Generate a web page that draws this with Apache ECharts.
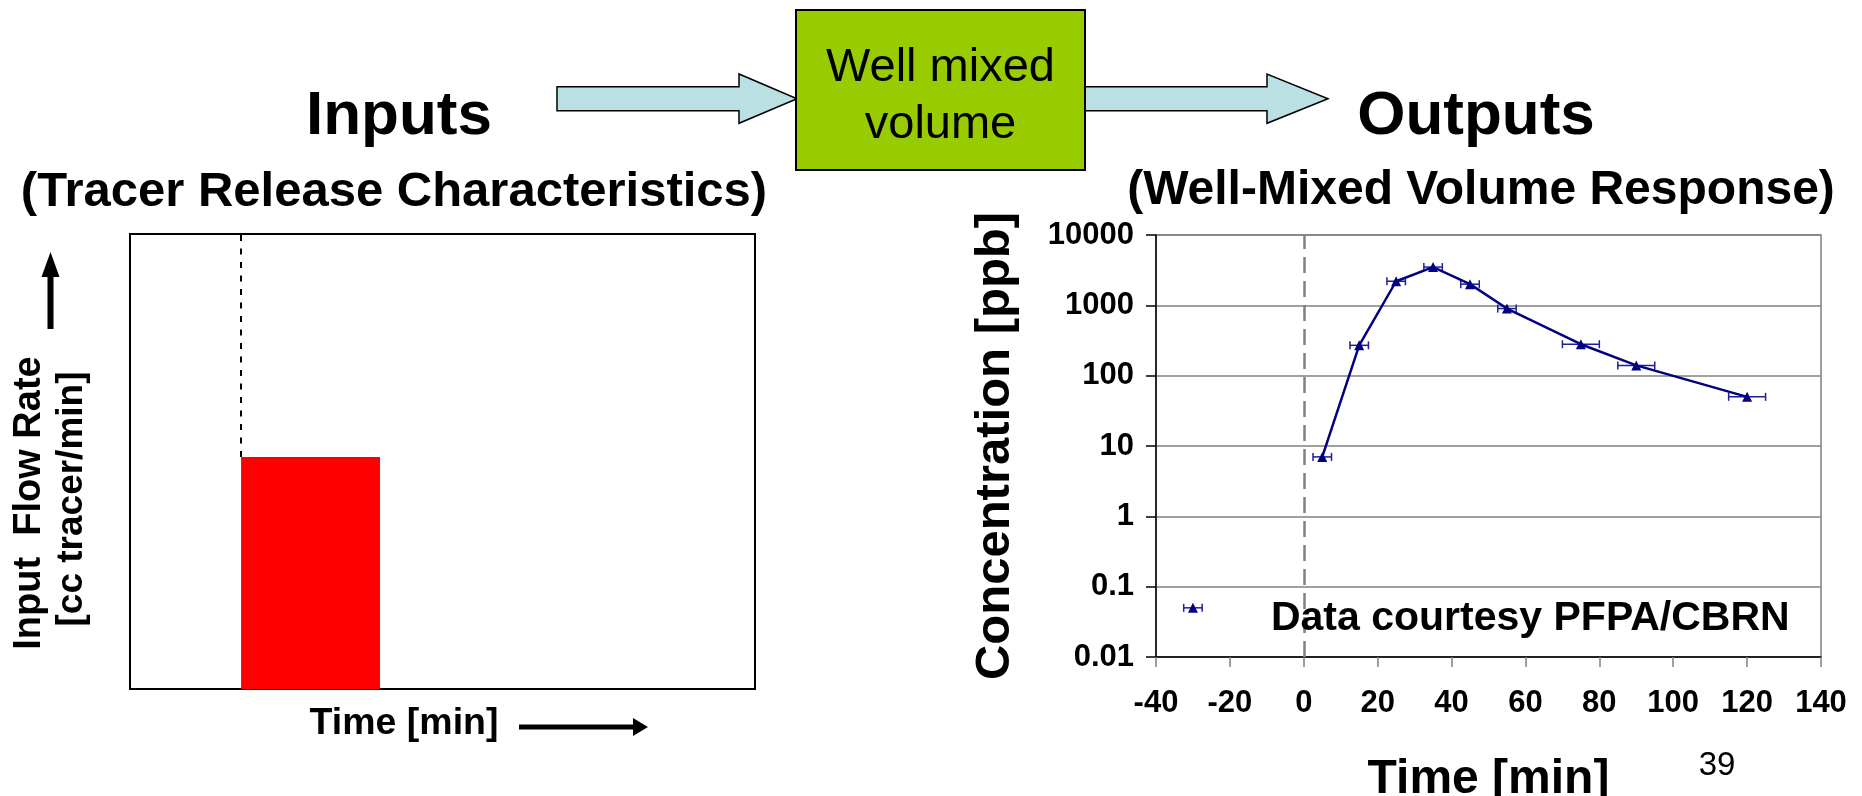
<!DOCTYPE html>
<html><head><meta charset="utf-8">
<script src="https://cdn.jsdelivr.net/npm/echarts@6/dist/echarts.min.js"></script>
<style>html,body{margin:0;padding:0;background:#fff}#c{width:1862px;height:796px}</style>
</head><body><div id="c"></div>
<script>
const FONT = 'Arial, "Liberation Sans", Helvetica, sans-serif';

// ---- Right chart: well-mixed volume response ----
const sampleTimes    = [5, 15, 25, 35, 45, 55, 75, 90, 120];
const concentrations = [7, 270, 2200, 3500, 2000, 900, 280, 140, 50];
const timeErrors     = [2.5, 2.5, 2.5, 2.5, 2.5, 2.5, 5, 5, 5];
const legendTime = [-30];
const legendConc = [0.05];
const legendErr  = [2.5];
const seriesName = 'Data courtesy PFPA/CBRN';
const releaseMarkerTime = [0];

// ---- Left chart: schematic tracer release ----
const releaseStart = [0];
const releaseEnd   = [10];
const releaseRate  = [0.51];

const chart = echarts.init(document.getElementById('c'));

const errData = sampleTimes.map((t, i) => [t, concentrations[i], timeErrors[i]])
  .concat(legendTime.map((t, i) => [t, legendConc[i], legendErr[i]]));

function errRender(params, api) {
  const x = api.value(0), y = api.value(1), e = api.value(2);
  const a = api.coord([x - e, y]), b = api.coord([x + e, y]);
  const cap = 4;
  const style = { stroke: '#1F1F9C', lineWidth: 1.5 };
  return { type: 'group', children: [
    { type: 'line', shape: { x1: a[0], y1: a[1], x2: b[0], y2: b[1] }, style },
    { type: 'line', shape: { x1: a[0], y1: a[1] - cap, x2: a[0], y2: a[1] + cap }, style },
    { type: 'line', shape: { x1: b[0], y1: b[1] - cap, x2: b[0], y2: b[1] + cap }, style }
  ]};
}

function releaseRender(params, api) {
  const p0 = api.coord([api.value(0), 0]);
  const p1 = api.coord([api.value(1), api.value(2)]);
  return { type: 'rect', shape: { x: p0[0], y: p1[1], width: p1[0] - p0[0], height: p0[1] - p1[1] },
    style: { fill: '#FF0000' } };
}

const boldText = (size) => ({ fontFamily: FONT, fontWeight: 'bold', fontSize: size, fill: '#000' });
const centered = { textAlign: 'center', textVerticalAlign: 'middle', align: 'center', verticalAlign: 'middle' };

const option = {
  animation: false,
  backgroundColor: '#fff',
  grid: [
    { left: 130, top: 234, width: 625, height: 455, show: true, borderColor: '#000', borderWidth: 2,
      backgroundColor: 'transparent', outerBoundsMode: 'none' },
    { left: 1156, top: 235, width: 665, height: 422, show: true, borderColor: '#808080', borderWidth: 1.5,
      backgroundColor: 'transparent', outerBoundsMode: 'none' }
  ],
  xAxis: [
    { gridIndex: 0, type: 'value', min: -8, max: 37,
      axisLine: { show: false }, axisTick: { show: false }, axisLabel: { show: false }, splitLine: { show: false } },
    { gridIndex: 1, type: 'value', min: -40, max: 140, interval: 20,
      axisLine: { show: true, onZero: false, lineStyle: { color: '#000', width: 1.5 } },
      axisTick: { show: true, inside: false, length: 10, lineStyle: { color: '#808080', width: 1.5 } },
      axisLabel: { margin: 31, fontSize: 31, fontWeight: 'bold', color: '#000', fontFamily: FONT },
      splitLine: { show: false },
      name: 'Time [min]', nameLocation: 'middle', nameGap: 99,
      nameTextStyle: { fontSize: 48, fontWeight: 'bold', color: '#000', fontFamily: FONT } }
  ],
  yAxis: [
    { gridIndex: 0, type: 'value', min: 0, max: 1,
      axisLine: { show: false }, axisTick: { show: false }, axisLabel: { show: false }, splitLine: { show: false } },
    { gridIndex: 1, type: 'log', logBase: 10, min: 0.01, max: 10000, splitNumber: 6,
      axisLine: { show: true, onZero: false, lineStyle: { color: '#000', width: 1.5 } },
      axisTick: { show: true, inside: false, length: 10, lineStyle: { color: '#000', width: 1.5 } },
      axisLabel: { margin: 22, fontSize: 31, fontWeight: 'bold', color: '#000', fontFamily: FONT,
        formatter: v => String(+Number(v).toPrecision(6)) },
      splitLine: { show: true, lineStyle: { color: '#808080', width: 1.5 } },
      minorTick: { show: false },
      name: 'Concentration [ppb]', nameLocation: 'middle', nameGap: 136, nameRotate: 90,
      nameTextStyle: { fontSize: 49, fontWeight: 'bold', color: '#000', fontFamily: FONT } }
  ],
  series: [
    { type: 'custom', name: 'Tracer release', xAxisIndex: 0, yAxisIndex: 0,
      data: releaseStart.map((s, i) => [s, releaseEnd[i], releaseRate[i]]),
      encode: { x: [0, 1], y: 2 }, renderItem: releaseRender, z: 3,
      markLine: { silent: true, symbol: ['none', 'none'], label: { show: false },
        lineStyle: { color: '#000', width: 2, type: [6, 7.5] },
        data: [[{ coord: [releaseStart[0], releaseRate[0]] }, { coord: [releaseStart[0], 1] }]] } },
    { type: 'custom', name: 'Time uncertainty', xAxisIndex: 1, yAxisIndex: 1,
      data: errData, encode: { x: 0, y: 1 }, renderItem: errRender, z: 4 },
    { type: 'line', name: 'Concentration', xAxisIndex: 1, yAxisIndex: 1,
      data: sampleTimes.map((t, i) => [t, concentrations[i]]),
      symbol: 'triangle', symbolSize: 10, showSymbol: true,
      itemStyle: { color: '#000080' }, lineStyle: { color: '#000080', width: 2.5 }, z: 5,
      markLine: { silent: true, symbol: ['none', 'none'], label: { show: false },
        lineStyle: { color: '#808080', width: 2.5, type: [16, 8] },
        data: releaseMarkerTime.map(t => ({ xAxis: t })) } },
    { type: 'scatter', name: seriesName, xAxisIndex: 1, yAxisIndex: 1,
      data: legendTime.map((t, i) => [t, legendConc[i]]),
      symbol: 'triangle', symbolSize: 10, itemStyle: { color: '#000080', opacity: 1 }, z: 5,
      label: { show: true, position: 'right', distance: 73, offset: [0, 11], formatter: '{a}',
        fontSize: 41, fontWeight: 'bold', color: '#000000', opacity: 1, textBorderWidth: 0, fontFamily: FONT } }
  ],
  graphic: [
    // flow arrows
    { type: 'polygon', z: 1, shape: { points: [[557, 86.7], [739, 86.7], [739, 74], [797, 98.7], [739, 123.3], [739, 110.7], [557, 110.7]] },
      style: { fill: '#BBE0E3', stroke: '#000', lineWidth: 1.5 } },
    { type: 'polygon', z: 1, shape: { points: [[1085, 86.7], [1267, 86.7], [1267, 74], [1328, 98.7], [1267, 123.3], [1267, 110.7], [1085, 110.7]] },
      style: { fill: '#BBE0E3', stroke: '#000', lineWidth: 1.5 } },
    // well mixed volume box
    { type: 'rect', z: 2, shape: { x: 796, y: 10, width: 289, height: 160 },
      style: { fill: '#99CC00', stroke: '#000', lineWidth: 2 } },
    { type: 'text', z: 3, x: 940.5, y: 97,
      style: Object.assign({ text: 'Well mixed\nvolume', fontFamily: FONT, fontSize: 47, lineHeight: 57, fill: '#000' }, centered) },
    // titles
    { type: 'text', x: 399, y: 117, style: Object.assign(boldText(62), { text: 'Inputs' }, centered) },
    { type: 'text', x: 394, y: 192, style: Object.assign(boldText(49), { text: '(Tracer Release Characteristics)' }, centered) },
    { type: 'text', x: 1476, y: 117, style: Object.assign(boldText(62), { text: 'Outputs' }, centered) },
    { type: 'text', x: 1481, y: 191, style: Object.assign(boldText(48), { text: '(Well-Mixed Volume Response)' }, centered) },
    // left chart axis titles
    { type: 'text', x: 30, y: 503, rotation: Math.PI / 2,
      style: Object.assign(boldText(38), { text: 'Input  Flow Rate' }, centered) },
    { type: 'text', x: 72, y: 499, rotation: Math.PI / 2,
      style: Object.assign(boldText(37), { text: '[cc tracer/min]' }, centered) },
    { type: 'polygon', shape: { points: [[47.5, 329], [47.5, 277], [41.5, 277], [50.5, 252], [59.5, 277], [53.5, 277], [53.5, 329]] },
      style: { fill: '#000' } },
    { type: 'text', x: 404, y: 724,
      style: Object.assign(boldText(37.5), { text: 'Time [min]' }, centered) },
    { type: 'polygon', shape: { points: [[519, 724.5], [633, 724.5], [633, 718], [648, 727], [633, 736], [633, 729.5], [519, 729.5]] },
      style: { fill: '#000' } },
    // slide number
    { type: 'text', x: 1717, y: 766,
      style: Object.assign({ text: '39', fontFamily: FONT, fontSize: 33, fill: '#000' }, centered) }
  ]
};
chart.setOption(option);
</script>
</body></html>
